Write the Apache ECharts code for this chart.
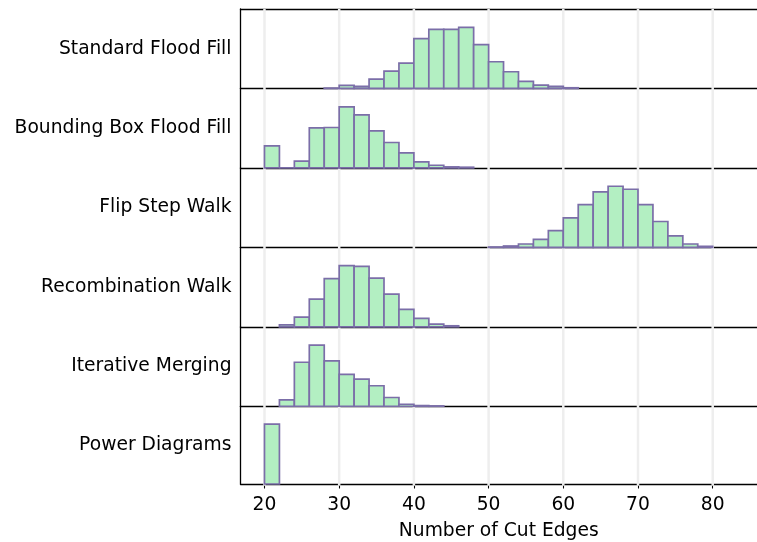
<!DOCTYPE html>
<html>
<head>
<meta charset="utf-8">
<script src="https://cdn.jsdelivr.net/npm/echarts@6/dist/echarts.min.js"></script>
<style>
html,body{margin:0;padding:0;background:#fff;}
#chart{width:757px;height:542px;}
</style>
</head>
<body>
<div id="chart"></div>
<script>
// ---- data ----
const categories = ['Standard Flood Fill', 'Bounding Box Flood Fill', 'Flip Step Walk', 'Recombination Walk', 'Iterative Merging', 'Power Diagrams'];
const binWidth = 2;
const binStarts = [28, 20, 50, 22, 22, 20];
const standardFloodFill = [1, 9, 6, 28, 52, 76, 149, 177, 177, 183, 131, 80, 50, 21, 10, 6, 2];
const boundingBoxFloodFill = [66, 0, 20, 120, 121, 183, 159, 111, 76, 45, 18, 8, 3, 2];
const flipStepWalk = [1, 4, 10, 24, 50, 88, 127, 165, 182, 173, 127, 77, 34, 10, 3];
const recombinationWalk = [6, 29, 83, 144, 183, 181, 146, 98, 52, 25, 8, 3];
const iterativeMerging = [19, 131, 182, 135, 95, 81, 61, 26, 6, 2, 1];
const powerDiagrams = [183];
const seriesValues = [standardFloodFill, boundingBoxFloodFill, flipStepWalk, recombinationWalk, iterativeMerging, powerDiagrams];
const xTicks = [20, 30, 40, 50, 60, 70, 80];
const xLabel = 'Number of Cut Edges';

// ---- layout ----
const FONT = 'DejaVu Sans';
const FS = 18.7;
const left = 240.5, right = 0, top0 = 9, panelH = 79.45;
const xMin = 16.79, xMax = 85.93;
const n = categories.length;
const spine = {show: true, lineStyle: {color: '#000', width: 1.3}};

const grids = [], xAxes = [], yAxes = [], series = [];
for (let i = 0; i < n; i++) {
  grids.push({left: left, right: right, top: top0 + i * panelH, height: panelH, show: false});
  const last = i === n - 1;
  xAxes.push({type: 'value', gridIndex: i, min: xMin, max: xMax, position: 'bottom',
    axisLine: spine, splitLine: {show: false},
    axisTick: {show: last, length: 4.5, lineStyle: {color: '#000', width: 1.1}, customValues: xTicks},
    axisLabel: {show: last, customValues: xTicks, color: '#000', fontFamily: FONT, fontSize: FS, margin: 12},
    name: last ? xLabel : '', nameLocation: 'middle', nameGap: 38,
    nameTextStyle: {color: '#000', fontFamily: FONT, fontSize: FS}});
  const vals = seriesValues[i];
  const mx = Math.max.apply(null, vals);
  yAxes.push({type: 'value', gridIndex: i, min: 0, max: mx * 1.3,
    axisLine: spine, axisTick: {show: false}, axisLabel: {show: false}, splitLine: {show: false},
    name: categories[i], nameLocation: 'middle', nameRotate: 0, nameGap: 9,
    nameTextStyle: {color: '#000', fontFamily: FONT, fontSize: FS, align: 'right', padding: [5, 0, 0, 0]}});
  const data = vals.map((v, k) => [binStarts[i] + k * binWidth, binStarts[i] + (k + 1) * binWidth, v]);
  series.push({type: 'custom', xAxisIndex: i, yAxisIndex: i, z: 3, silent: true, clip: false,
    data: data,
    renderItem: function (params, api) {
      const x0 = api.value(0), x1 = api.value(1), v = api.value(2);
      const p0 = api.coord([x0, v]);
      const p1 = api.coord([x1, 0]);
      return {type: 'rect',
        shape: {x: p0[0], y: p0[1], width: p1[0] - p0[0], height: p1[1] - p0[1]},
        style: {fill: '#b3efc2', stroke: '#7b6ea8', lineWidth: 1.7}};
    }});
}
// top spine of the first panel
xAxes.push({type: 'value', gridIndex: 0, min: xMin, max: xMax, position: 'top',
  axisLine: spine, axisTick: {show: false}, axisLabel: {show: false}, splitLine: {show: false}});
// background grid for vertical gridlines spanning all panels
grids.push({left: left, right: right, top: top0, height: panelH * n, show: false});
xAxes.push({type: 'value', gridIndex: n, min: xMin, max: xMax, show: false});
yAxes.push({type: 'value', gridIndex: n, min: 0, max: 1, show: false});
series.push({type: 'custom', xAxisIndex: n + 1, yAxisIndex: n, z: 1, silent: true,
  data: xTicks.map(t => [t]),
  renderItem: function (params, api) {
    const cs = params.coordSys;
    const x = api.coord([api.value(0), 0])[0];
    return {type: 'line', shape: {x1: x, y1: cs.y, x2: x, y2: cs.y + cs.height},
      style: {stroke: '#eeeeee', lineWidth: 2.5}};
  }});

const chart = echarts.init(document.getElementById('chart'), null, {renderer: 'canvas'});
chart.setOption({
  animation: false,
  backgroundColor: '#fff',
  grid: grids, xAxis: xAxes, yAxis: yAxes, series: series
});
</script>
</body>
</html>
